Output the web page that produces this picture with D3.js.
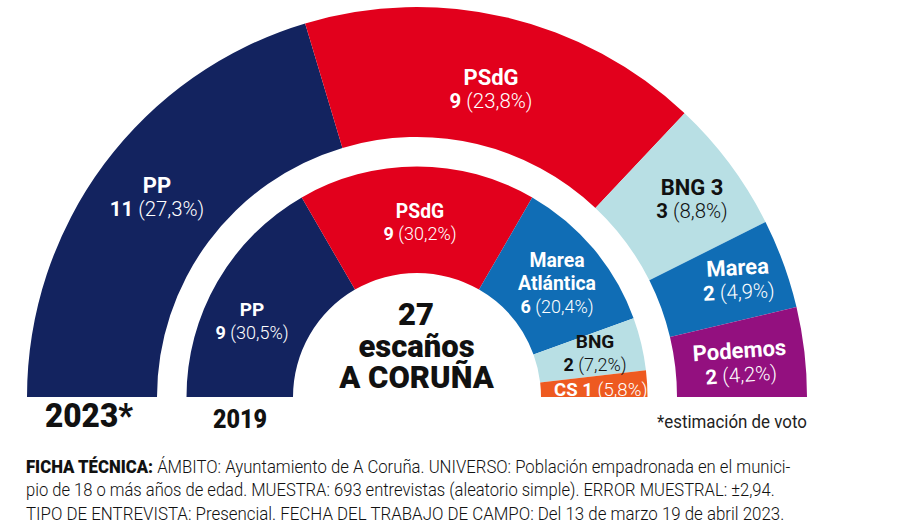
<!DOCTYPE html>
<html>
<head>
<meta charset="utf-8">
<script src="https://cdn.jsdelivr.net/npm/d3@7"></script>
<style>
  html, body { margin: 0; padding: 0; background: #fff; }
  svg { display: block; }
  text { font-family: Roboto, sans-serif; }
</style>
</head>
<body>
<svg id="chart" width="900" height="528"></svg>
<script>
// 2023 estimate (outer ring)
const parties2023 = ["PP", "PSdG", "BNG 3", "Marea", "Podemos"];
const seats2023 = [11, 9, 3, 2, 2];
const votes2023 = ["27,3%", "23,8%", "8,8%", "4,9%", "4,2%"];
const colors2023 = ["#13235f", "#e2001c", "#b8dfe4", "#106db5", "#93107f"];

// 2019 result (inner ring)
const parties2019 = ["PP", "PSdG", "Marea Atlántica", "BNG", "CS"];
const seats2019 = [9, 9, 6, 2, 1];
const votes2019 = ["30,5%", "30,2%", "20,4%", "7,2%", "5,8%"];
const colors2019 = ["#13235f", "#e2001c", "#106db5", "#b8dfe4", "#ee5a20"];

const centerLines = ["27", "escaños", "A CORUÑA"];
const fichaLines = [
  ["FICHA TÉCNICA:", " ÁMBITO: Ayuntamiento de A Coruña. UNIVERSO: Población empadronada en el munici-"],
  ["", "pio de 18 o más años de edad. MUESTRA: 693 entrevistas (aleatorio simple). ERROR MUESTRAL: ±2,94."],
  ["", "TIPO DE ENTREVISTA: Presencial. FECHA DEL TRABAJO DE CAMPO: Del 13 de marzo 19 de abril 2023."]
];
const fichaWidths = [765, 749, 759];

const cx = 417;
const cy = 397;
const svg = d3.select("#chart");
const g = svg.append("g").attr("transform", `translate(${cx},${cy})`);

// half a circle, seats decide the size of each slice
const pie = d3.pie().sort(null).startAngle(-Math.PI / 2).endAngle(Math.PI / 2);

function drawRing(seats, colors, inner, outer) {
  const arc = d3.arc().innerRadius(inner).outerRadius(outer);
  g.selectAll(null)
    .data(pie(seats))
    .enter()
    .append("path")
    .attr("d", arc)
    .attr("fill", (d, i) => colors[i]);
}
drawRing(seats2023, colors2023, 260, 390);
drawRing(seats2019, colors2019, 124, 230.5);

// the original type is a bit condensed, so squeeze a text to the width it has there
function fit(sel, x, width) {
  const k = width / sel.node().getComputedTextLength();
  sel.attr("transform", `translate(${x},0) scale(${k},1) translate(${-x},0)`);
}

// label = name line(s) + "seats (vote%)" line
function label(x, y, names, seat, vote, color, nameSize, lineSize, gap, tilt) {
  const t = svg.append("g").attr("transform", `translate(${x},${y}) rotate(${tilt || 0})`);
  names.forEach((n, i) => {
    t.append("text")
      .attr("y", i * gap)
      .attr("text-anchor", "middle")
      .attr("font-size", nameSize)
      .attr("font-weight", 700)
      .attr("fill", color)
      .text(n);
  });
  const line = t.append("text")
    .attr("y", names.length * gap)
    .attr("text-anchor", "middle")
    .attr("font-size", lineSize)
    .attr("fill", color);
  line.append("tspan").attr("font-weight", 700).text(seat + " ");
  line.append("tspan").attr("font-weight", 300).text("(" + vote + ")");
}

label(157, 193, [parties2023[0]], seats2023[0], votes2023[0], "#fff", 22, 20.4, 23);
label(491, 85, [parties2023[1]], seats2023[1], votes2023[1], "#fff", 22, 20.4, 23);
label(692, 195, [parties2023[2]], seats2023[2], votes2023[2], "#111", 22, 20.4, 23);
label(738, 275, [parties2023[3]], seats2023[3], votes2023[3], "#fff", 22, 20.4, 24, -3);
label(740, 358, [parties2023[4]], seats2023[4], votes2023[4], "#fff", 22, 20.4, 24, -4);

label(252, 316, [parties2019[0]], seats2019[0], votes2019[0], "#fff", 19, 18, 23);
label(420, 218, [parties2019[1]], seats2019[1], votes2019[1], "#fff", 19.3, 18, 21.5);
label(557, 267, ["Marea", "Atlántica"], seats2019[2], votes2019[2], "#fff", 19.4, 18, 23);
label(595, 348, [parties2019[3]], seats2019[3], votes2019[3], "#111", 19, 18, 23);

const cs = svg.append("text")
  .attr("x", 554).attr("y", 396)
  .attr("font-size", 18.6).attr("fill", "#fff");
cs.append("tspan").attr("font-weight", 700).text(parties2019[4] + " " + seats2019[4] + " ");
cs.append("tspan").attr("font-weight", 300).text("(" + votes2019[4] + ")");

// center title
svg.append("text").attr("x", 416).attr("y", 325).attr("text-anchor", "middle")
  .attr("font-size", 31).attr("font-weight", 900).attr("fill", "#111").text(centerLines[0]);
svg.append("text").attr("x", 416.5).attr("y", 357).attr("text-anchor", "middle")
  .attr("font-size", 31).attr("font-weight", 900).attr("fill", "#111").text(centerLines[1]);
svg.append("text").attr("x", 416.5).attr("y", 388).attr("text-anchor", "middle")
  .attr("font-size", 31).attr("font-weight", 900).attr("fill", "#111").text(centerLines[2]);

// years
const y2023 = svg.append("text").attr("x", 45).attr("y", 427)
  .attr("font-size", 32.5).attr("font-weight", 900).attr("fill", "#111").text("2023*");
fit(y2023, 45, 88);
const y2019 = svg.append("text").attr("x", 213).attr("y", 428)
  .attr("font-size", 26).attr("font-weight", 900).attr("fill", "#111").text("2019");
fit(y2019, 213, 54);

const note = svg.append("text").attr("x", 657).attr("y", 428)
  .attr("font-size", 18).attr("font-weight", 400).attr("fill", "#222").text("*estimación de voto");
fit(note, 657, 150);

// ficha tecnica
fichaLines.forEach((l, i) => {
  const t = svg.append("text").attr("x", 26).attr("y", 473 + i * 23.5)
    .attr("font-size", 18).attr("fill", "#111");
  if (l[0]) t.append("tspan").attr("font-weight", 900).text(l[0]);
  t.append("tspan").attr("font-weight", 300).text(l[1]);
  fit(t, 26, fichaWidths[i]);
});
</script>
</body>
</html>
